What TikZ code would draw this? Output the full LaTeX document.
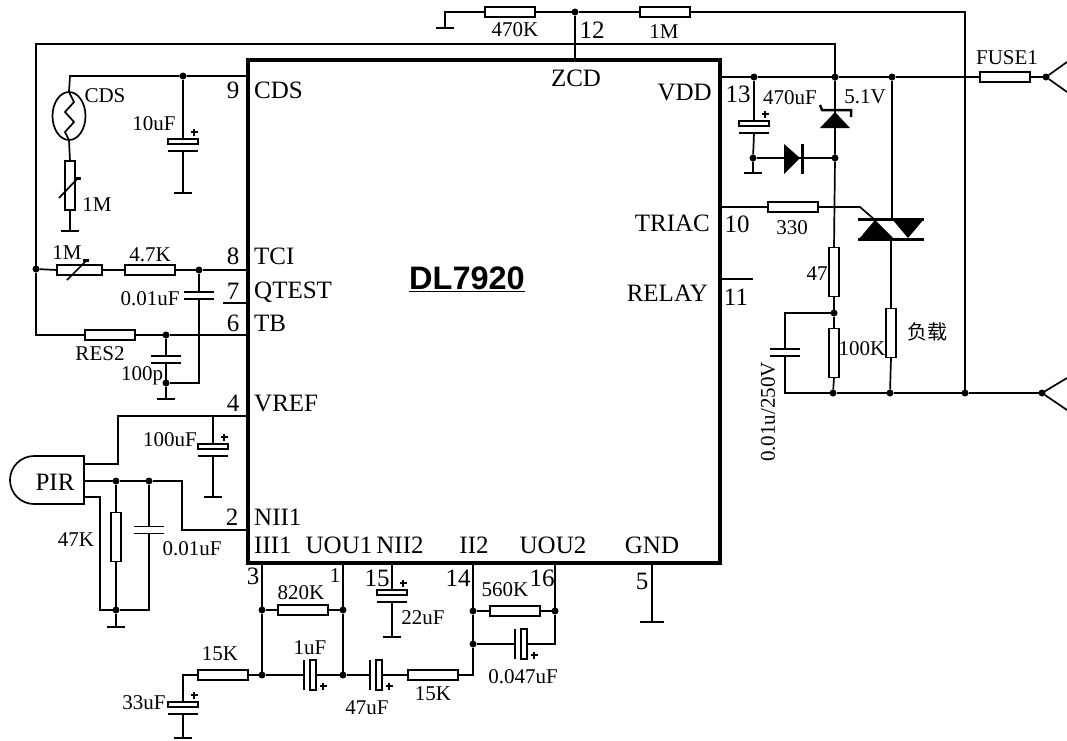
\documentclass[tikz,border=0pt]{standalone}
\usepackage{fontspec}
\usetikzlibrary{shapes.geometric}
\setmainfont{Liberation Serif}
\newfontfamily\cjkfont{Noto Sans CJK SC}
\newfontfamily\chipfont{Liberation Sans}
\tikzset{
	wire/.style={line width=1.7pt},
	hres/.style={draw, line width=1.7pt, fill=white, minimum width=50pt, minimum height=10.5pt, inner sep=0pt, outer sep=0pt},
	vres/.style={draw, line width=1.7pt, fill=white, minimum width=10.5pt, minimum height=49pt, inner sep=0pt, outer sep=0pt},
	dot/.style={circle, fill=black, minimum size=7pt, inner sep=0pt, outer sep=0pt},
	lbl/.style={font=\fontsize{21}{21}\selectfont, inner sep=0pt},
	pin/.style={font=\fontsize{25}{25}\selectfont, inner sep=0pt}
}
\def\gnd#1(#2,#3){\coordinate (#1) at (#2,#3); \draw[wire] (#2-9,#3) -- (#2+9,#3);}
\def\plus(#1,#2){\draw[wire] (#1-3.5,#2) -- (#1+3.5,#2) (#1,#2-3.5) -- (#1,#2+3.5);}
\def\capv#1(#2,#3){\coordinate (#1t) at (#2,#3-3.5); \coordinate (#1b) at (#2,#3+3.5);
	\draw[wire] (#2-15,#3-3.5) -- (#2+15,#3-3.5) (#2-15,#3+3.5) -- (#2+15,#3+3.5);}
\def\pcapv#1(#2,#3){\coordinate (#1t) at (#2,#3); \coordinate (#1b) at (#2,#3+12);
	\draw[wire] (#2-15,#3) rectangle (#2+15,#3+5); \draw[wire] (#2-15,#3+12) -- (#2+15,#3+12);
	\plus(#2+11,#3-7)}
\def\pcaph#1(#2,#3){\coordinate (#1l) at (#2,#3); \coordinate (#1r) at (#2+12,#3);
	\draw[wire] (#2,#3-15) -- (#2,#3+15); \draw[wire] (#2+6,#3-15) rectangle (#2+12,#3+15);
	\plus(#2+19,#3+11)}

\begin{document}
\begin{tikzpicture}[x=1pt, y=-1pt]
			\useasboundingbox (0, 0) rectangle (1067, 740);
			%%%%% chip %%%%%
			\node[draw, line width=4.5pt, minimum width=472pt, minimum height=503pt, inner sep=0pt, outer sep=0pt] (ic) at (484, 311.5) {};
			\node[font=\chipfont\bfseries\fontsize{32.5}{33}\selectfont, inner sep=0pt] (name) at (467, 279) {\underline{DL7920}};
			
			\node[pin, anchor=west] (pCds) at (254, 90) {CDS};
			\node[pin, anchor=west] (pTci) at (254, 256) {TCI};
			\node[pin, anchor=west] (pQtest) at (254, 292) {QTEST};
			\node[pin, anchor=west] (pTb) at (254, 323) {TB};
			\node[pin, anchor=west] (pVref) at (254, 403) {VREF};
			\node[pin, anchor=west] (pNii1) at (254, 517) {NII1};
			\node[pin, anchor=west] (pIii1) at (254, 545) {III1};
			\node[pin] (pUou1) at (339, 545) {UOU1};
			\node[pin] (pNii2) at (400, 545) {NII2};
			\node[pin] (pIi2) at (474, 545) {II2};
			\node[pin] (pUou2) at (553, 545) {UOU2};
			\node[pin] (pGnd) at (652, 545) {GND};
			\node[pin] (pZcd) at (576, 78) {ZCD};
			\node[pin, anchor=east] (pVdd) at (712, 92) {VDD};
			\node[pin, anchor=east] (pTriac) at (710, 223) {TRIAC};
			\node[pin, anchor=east] (pRelay) at (708, 293) {RELAY};
			
			\node[pin] (n9) at (233, 90) {9};
			\node[pin] (n8) at (233, 256) {8};
			\node[pin] (n7) at (233, 291) {7};
			\node[pin] (n6) at (233, 323) {6};
			\node[pin] (n4) at (233, 403) {4};
			\node[pin] (n2) at (232, 517) {2};
			\node[pin] (n3) at (253, 576) {3};
			\node[lbl] (n1) at (335, 576) {1};
			\node[pin] (n15) at (377, 578) {15};
			\node[pin] (n14) at (458, 578) {14};
			\node[pin] (n16) at (542, 578) {16};
			\node[pin] (n5) at (642, 581) {5};
			\node[pin] (n12) at (592, 30) {12};
			\node[pin] (n13) at (738, 94) {13};
			\node[pin] (n10) at (737, 224) {10};
			\node[pin] (n11) at (736, 297) {11};
			
			%%%%% parts %%%%%
			\node[hres] (r470k) at (510, 12) {};
			\node[hres] (r1m) at (665, 12) {};
			\node[hres] (fuse) at (1005, 77) {};
			\node[hres] (r330) at (793, 207) {};
			\node[vres] (r47) at (834, 272) {};
			\node[vres] (r100k) at (834, 353) {};
			\node[vres] (load) at (891, 333) {};
			\node[hres] (r47k2) at (150, 270) {};
			\node[hres, minimum width=45pt] (vr1m) at (79.5, 270) {};
			\node[hres] (res2) at (110, 335) {};
			\node[vres] (vr1m2) at (70, 185.5) {};
			\node[vres] (r47k) at (116, 537) {};
			\node[hres] (r820k) at (303, 610) {};
			\node[hres] (r15ka) at (223, 675) {};
			\node[hres] (r15kb) at (433, 675) {};
			\node[hres] (r560k) at (515, 611) {};
			
			\node[dot] (j12) at (575, 12) {};
			\node[dot] (jC) at (754, 77) {};
			\node[dot] (jV) at (835, 77) {};
			\node[dot] (jT) at (892, 77) {};
			\node[dot] (jIn) at (1046, 77) {};
			\node[dot] (jD) at (835, 158) {};
			\node[dot] (jG) at (753, 158) {};
			\node[dot] (jS) at (834, 313) {};
			\node[dot] (jN1) at (833, 393) {};
			\node[dot] (jN2) at (890, 393) {};
			\node[dot] (jN3) at (965, 393) {};
			\node[dot] (jOut) at (1042, 393) {};
			\node[dot] (j9) at (183, 76) {};
			\node[dot] (j8) at (36, 269) {};
			\node[dot] (jTci) at (199, 270) {};
			\node[dot] (jTb) at (166, 335) {};
			\node[dot] (jTbg) at (166, 383) {};
			\node[dot] (jPa) at (116, 481) {};
			\node[dot] (jPb) at (149, 481) {};
			\node[dot] (jPg) at (116, 610) {};
			\node[dot] (j3a) at (262, 610) {};
			\node[dot] (j3b) at (262, 675) {};
			\node[dot] (j1a) at (343, 610) {};
			\node[dot] (j1b) at (343, 675) {};
			\node[dot] (j14a) at (473, 611) {};
			\node[dot] (j14b) at (473, 644) {};
			\node[dot] (j16) at (555, 611) {};
			
			\capv{cDrop}(785, 352.5)
			\capv{cTci}(199, 295.5)
			\capv{cTb}(166, 359.5)
			\capv{cPir}(149, 530)
			\pcapv{cCds}(183, 139)
			\pcapv{cVdd}(754, 121)
			\pcapv{cVref}(213, 444)
			\pcapv{c15}(392, 590)
			\pcapv{c33}(183, 702)
			\pcaph{c1u}(304, 675)
			\pcaph{c47u}(370, 675)
			\pcaph{c047}(515, 644)
			
			\gnd{gTop}(445, 28)
			\gnd{gVdd}(753, 173)
			\gnd{gCds}(70, 231)
			\gnd{gCap}(183, 193)
			\gnd{gTb}(166, 399)
			\gnd{gRef}(213, 497)
			\gnd{gPir}(116, 627)
			\gnd{g15}(392, 637)
			\gnd{g33}(183, 738)
			\draw[wire] (640, 622) -- (664, 622);
			\coordinate (g5) at (652, 622);
			
			%%%%% sensor and detector %%%%%
			\node[draw, ellipse, line width=1.7pt, minimum width=33pt, minimum height=48pt, inner sep=0pt, outer sep=0pt] (lamp) at (69, 116) {};
			\draw[wire] (lamp.north) -- (74, 102) -- (65, 112) -- (74, 122) -- (65, 132) -- (lamp.south);
			\draw[wire, fill=white] (84, 456) -- (34, 456) arc (270:90:24) -- (84, 504) -- cycle;
			\node[font=\fontsize{25}{25}\selectfont, inner sep=0pt] (pir) at (55, 482) {PIR};
			\coordinate (pirA) at (84, 464);
			\coordinate (pirB) at (84, 481);
			\coordinate (pirC) at (84, 497);
			
			%%%%% zener, diode, triac %%%%%
			\fill (835, 112) -- (820, 128) -- (850, 128) -- cycle;
			\draw[line width=2.5pt] (820, 105) -- (822, 110) -- (851, 110) -- (851, 117);
			\fill (784, 144) -- (784, 174) -- (800, 158) -- cycle;
			\draw[line width=3pt] (802, 144) -- (802, 174);
			\draw[line width=3pt] (858, 219) -- (924, 219);
			\draw[line width=3pt] (858, 239) -- (924, 239);
			\fill (875, 220) -- (859, 239) -- (894, 239) -- cycle;
			\fill (892, 219) -- (924, 219) -- (908, 238) -- cycle;
			\coordinate (triA) at (892, 219);
			\coordinate (triB) at (891, 239);
			\coordinate (triG) at (875, 220);
			
			%%%%% adjusters %%%%%
			\draw[wire] (59, 198) -- (78, 178);
			\draw[line width=3pt] (75, 178) -- (81, 178);
			\draw[wire] (67, 280) -- (87, 260);
			\draw[line width=3pt] (83, 260) -- (89, 260);
			
			%%%%% top and supply %%%%%
			\draw[wire] (gTop) -- (445, 12) -- (r470k.west);
			\draw[wire] (r470k.east) -- (j12) -- (r1m.west);
			\draw[wire] (j12) -- (j12 |- ic.north);
			\draw[wire] (r1m.east) -- (965, 12) -- (jN3);
			\draw[wire] (j8) -- (36, 44) -- (835, 44) -- (jV);
			\draw[wire] (j8) -- (36, 335) -- (res2.west);
			\draw[wire] (jC -| ic.east) -- (jC) -- (jV) -- (jT) -- (fuse.west);
			\draw[wire] (fuse.east) -- (jIn);
			\coordinate (inA) at (1067, 62);
			\coordinate (inB) at (1067, 92);
			\draw[wire] (inA) -- (jIn) -- (inB);
			\draw[wire] (jC) -- (cVddt);
			\draw[wire] (cVddb) -- (jG) -- (gVdd);
			\draw[wire] (jG) -- (802, 158) -- (jD);
			\draw[wire] (jV) -- (jD) -- (r47.north);
			\draw[wire] (r47.south) -- (jS) -- (r100k.north);
			\draw[wire] (r100k.south) -- (jN1);
			\draw[wire] (jS) -- (785, 313) -- (cDropt);
			\draw[wire] (cDropb) -- (785, 393) -- (jN1) -- (jN2) -- (jN3) -- (jOut);
			\coordinate (outA) at (1067, 378);
			\coordinate (outB) at (1067, 410);
			\draw[wire] (outA) -- (jOut) -- (outB);
			\draw[wire] (jT) -- (triA);
			\draw[wire] (triB) -- (load.north);
			\draw[wire] (load.south) -- (jN2);
			\draw[wire] (r330.west -| ic.east) -- (r330.west);
			\draw[wire] (r330.east) -- (860, 207) -- (triG);
			\coordinate (relayEnd) at (753, 279);
			\draw[wire] (relayEnd -| ic.east) -- (relayEnd);
			
			%%%%% left side %%%%%
			\draw[wire] (j9 -| ic.west) -- (j9) -- (70, 76) -- (lamp.north);
			\draw[wire] (lamp.south) -- (vr1m2.north);
			\draw[wire] (vr1m2.south) -- (gCds);
			\draw[wire] (j9) -- (cCdst);
			\draw[wire] (cCdsb) -- (gCap);
			\draw[wire] (j8) -- (vr1m.west);
			\draw[wire] (vr1m.east) -- (r47k2.west);
			\draw[wire] (r47k2.east) -- (jTci) -- (jTci -| ic.west);
			\draw[wire] (jTci) -- (cTcit);
			\draw[wire] (cTcib) -- (199, 383) -- (jTbg);
			\coordinate (q7) at (223, 303);
			\draw[wire] (q7) -- (q7 -| ic.west);
			\draw[wire] (res2.east) -- (jTb) -- (jTb -| ic.west);
			\draw[wire] (jTb) -- (cTbt);
			\draw[wire] (cTbb) -- (jTbg) -- (gTb);
			\coordinate (vrefA) at (118, 416);
			\coordinate (vrefB) at (213, 416);
			\draw[wire] (pirA) -- (118, 464) -- (vrefA) -- (vrefB) -- (vrefB -| ic.west);
			\draw[wire] (vrefB) -- (cVreft);
			\draw[wire] (cVrefb) -- (gRef);
			\coordinate (nii) at (182, 530);
			\draw[wire] (pirB) -- (jPa) -- (jPb) -- (182, 481) -- (nii) -- (nii -| ic.west);
			\draw[wire] (pirC) -- (100, 497) -- (100, 610) -- (jPg) -- (149, 610) -- (cPirb);
			\draw[wire] (cPirt) -- (jPb);
			\draw[wire] (jPa) -- (r47k.north);
			\draw[wire] (r47k.south) -- (jPg) -- (gPir);
			
			%%%%% bottom %%%%%
			\draw[wire] (j3a |- ic.south) -- (j3a) -- (j3b);
			\draw[wire] (j3a) -- (r820k.west);
			\draw[wire] (r820k.east) -- (j1a);
			\draw[wire] (j1a |- ic.south) -- (j1a) -- (j1b);
			\draw[wire] (j3b) -- (r15ka.east);
			\draw[wire] (r15ka.west) -- (183, 675) -- (c33t);
			\draw[wire] (c33b) -- (g33);
			\draw[wire] (j3b) -- (c1ul);
			\draw[wire] (c1ur) -- (j1b) -- (c47ul);
			\draw[wire] (c47ur) -- (r15kb.west);
			\draw[wire] (r15kb.east) -- (473, 675) -- (j14b) -- (j14a) -- (j14a |- ic.south);
			\draw[wire] (j14a) -- (r560k.west);
			\draw[wire] (r560k.east) -- (j16);
			\draw[wire] (j14b) -- (c047l);
			\draw[wire] (c047r) -- (555, 644) -- (j16) -- (j16 |- ic.south);
			\draw[wire] (c15t |- ic.south) -- (c15t);
			\draw[wire] (c15b) -- (g15);
			\draw[wire] (g5 |- ic.south) -- (g5);
			
			%%%%% values %%%%%
			\node[lbl] (v470k) at (515, 30) {470K};
			\node[lbl] (v1m) at (664, 32) {1M};
			\node[lbl] (vFuse) at (1007, 58) {FUSE1};
			\node[lbl] (v470u) at (790, 98) {470uF};
			\node[lbl] (v51) at (865, 97) {5.1V};
			\node[lbl] (v330) at (792, 228) {330};
			\node[lbl] (v47) at (817, 274) {47};
			\node[lbl] (v100k) at (862, 349) {100K};
			\node[lbl, rotate=90] (vDrop) at (768, 412) {0.01u/250V};
			\node[font=\cjkfont\fontsize{20}{20}\selectfont, inner sep=0pt] (vLoad) at (927, 332) {负载};
			\node[lbl] (vSens) at (105, 96) {CDS};
			\node[lbl] (vCap) at (154, 124) {10uF};
			\node[lbl] (vVr) at (97, 205) {1M};
			\node[lbl] (vVr2) at (67, 253) {1M};
			\node[lbl] (v47k2) at (150, 255) {4.7K};
			\node[lbl] (v001) at (150, 299) {0.01uF};
			\node[lbl] (vRes2) at (100, 354) {RES2};
			\node[lbl] (v100p) at (142, 376) {100p};
			\node[lbl] (v100u) at (170, 440) {100uF};
			\node[lbl] (v47k) at (76, 540) {47K};
			\node[lbl] (v001b) at (192, 549) {0.01uF};
			\node[lbl] (v820k) at (301, 593) {820K};
			\node[lbl] (v560k) at (505, 590) {560K};
			\node[lbl] (v1u) at (310, 648) {1uF};
			\node[lbl] (v22u) at (423, 618) {22uF};
			\node[lbl] (v15ka) at (220, 654) {15K};
			\node[lbl] (v33u) at (144, 703) {33uF};
			\node[lbl] (v47u) at (367, 708) {47uF};
			\node[lbl] (v15kb) at (433, 694) {15K};
			\node[lbl] (v047) at (523, 677) {0.047uF};
		\end{tikzpicture}
\end{document}
